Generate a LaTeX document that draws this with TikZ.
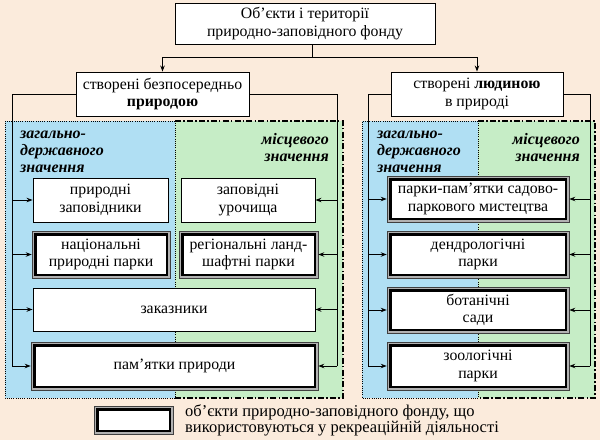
\documentclass[tikz,border=0pt]{standalone}
\usepackage{fontspec}
\setmainfont{Liberation Serif}
\usetikzlibrary{arrows.meta}
\definecolor{bgc}{HTML}{FBEBDC}
\definecolor{bluez}{HTML}{B0DFF3}
\definecolor{greenz}{HTML}{C6EDC6}
\begin{document}
\begin{tikzpicture}[x=1pt,y=-1pt,
  txt/.style={font=\fontsize{15.8}{17.5}\selectfont},
  box/.style={txt, draw=black, line width=0.9pt, fill=white, align=center, inner sep=0pt},
  rbox/.style={box, draw=black!75, line width=0.6pt, fill=black!30,
    path picture={\draw[black, line width=2.6pt, fill=white]
      ([shift={(3.2pt,-3.2pt)}]path picture bounding box.north west) rectangle
      ([shift={(-3.2pt,3.2pt)}]path picture bounding box.south east);}},
  lab/.style={font=\fontsize{16}{17}\selectfont\bfseries\itshape, inner sep=0pt},
  legt/.style={font=\fontsize{16.5}{17}\selectfont, inner sep=0pt},
  conn/.style={draw=black, line width=0.9pt},
  arr/.style={conn, -{Stealth[length=6pt,width=4.5pt]}},
  dotb/.style={draw=black, line width=0.9pt, dash pattern=on 0.9pt off 1.3pt},
  dashdotb/.style={draw=black, line width=1.2pt, dash pattern=on 6pt off 2.2pt on 1.5pt off 2.2pt},
]
\useasboundingbox (0,0) rectangle (600,440);
\fill[bgc] (0,0) rectangle (600,440);

% zones
\fill[bluez] (5,121) rectangle (175,398);
\fill[greenz] (175,121) rectangle (343,398);
\fill[bluez] (362,121) rectangle (478,398);
\fill[greenz] (478,121) rectangle (595,398);
\draw[dashdotb] (175,121) -- (343,121) -- (343,398) -- (175,398);
\draw[dashdotb] (478,121) -- (595,121) -- (595,398) -- (478,398);
\draw[dotb] (175,121) -- (5,121) -- (5,398) -- (175,398);
\draw[dotb] (175,121) -- (175,398);
\draw[dotb] (478,121) -- (362,121) -- (362,398) -- (478,398);
\draw[dotb] (478,121) -- (478,398);

% labels
\node[lab, anchor=base west] at (20,138) {загально-};
\node[lab, anchor=base west] at (20,155) {державного};
\node[lab, anchor=base west] at (20,172) {значення};
\node[lab, anchor=base east] at (329,144) {місцевого};
\node[lab, anchor=base east] at (329,161.5) {значення};
\node[lab, anchor=base west] at (377,138) {загально-};
\node[lab, anchor=base west] at (377,155) {державного};
\node[lab, anchor=base west] at (377,172) {значення};
\node[lab, anchor=base east] at (580,144) {місцевого};
\node[lab, anchor=base east] at (580,161.5) {значення};

% top boxes
\node[box, minimum width=260pt, minimum height=41pt] (T) at (305,23.5) {Об’єкти і території\\природно-заповідного фонду};
\node[box, minimum width=173pt, minimum height=44pt] (L) at (162.5,94) {створені безпосередньо\\\textbf{природою}};
\node[box, minimum width=172pt, minimum height=44pt] (R) at (477,94) {створені \textbf{людиною}\\в природі};

% left zone boxes
\node[box, minimum width=135pt, minimum height=44pt] (PZ) at (100.5,200) {природні\\заповідники};
\node[box, minimum width=134pt, minimum height=44pt] (ZU) at (248,200) {заповідні\\урочища};
\node[rbox, minimum width=138pt, minimum height=47pt] (NPP) at (101,254.5) {національні\\природні парки};
\node[rbox, minimum width=139pt, minimum height=47pt] (RLP) at (248.5,254.5) {регіональні ланд-\\шафтні парки};
\node[box, minimum width=282pt, minimum height=43pt] (ZK) at (174,309.5) {заказники};
\node[rbox, minimum width=287pt, minimum height=48pt] (PP) at (174.5,366) {пам’ятки природи};

% right zone boxes
\node[rbox, minimum width=182pt, minimum height=46pt] (S1) at (478,199) {парки-пам’ятки садово-\\паркового мистецтва};
\node[rbox, minimum width=182pt, minimum height=47pt] (S2) at (478,254.5) {дендрологічні\\парки};
\node[rbox, minimum width=182pt, minimum height=46pt] (S3) at (478,310) {ботанічні\\сади};
\node[rbox, minimum width=182pt, minimum height=48pt] (S4) at (478,366) {зоологічні\\парки};

% legend
\node[rbox, minimum width=79pt, minimum height=28pt] (LG) at (133.5,420) {};
\node[legt, anchor=base west] (LT1) at (185,416.5) {об’єкти природно-заповідного фонду, що};
\node[legt, anchor=base west] (LT2) at (185,432.5) {використовуються у рекреаційній діяльності};

% connectors top
\coordinate (tj) at (312,57);
\draw[conn] (T.south -| tj) -- (tj);
\draw[arr] (tj) -| (L.north);
\draw[arr] (tj) -| (R.north);

% left zone buses
\coordinate (bl) at (12,94);
\coordinate (br) at (337,94);
\draw[conn] (L.west) -- (bl) -- (bl |- PP.west);
\draw[conn] (L.east) -- (br) -- (br |- PP.east);
\draw[arr] (bl |- PZ.west) -- (PZ.west);
\draw[arr] (bl |- NPP.west) -- (NPP.west);
\draw[arr] (bl |- ZK.west) -- (ZK.west);
\draw[arr] (bl |- PP.west) -- (PP.west);
\draw[arr] (br |- ZU.east) -- (ZU.east);
\draw[arr] (br |- RLP.east) -- (RLP.east);
\draw[arr] (br |- ZK.east) -- (ZK.east);
\draw[arr] (br |- PP.east) -- (PP.east);

% right zone buses
\coordinate (cl) at (368,94);
\coordinate (cr) at (590,94);
\draw[conn] (R.west) -- (cl) -- (cl |- S4.west);
\draw[conn] (R.east) -- (cr) -- (cr |- S4.east);
\draw[arr] (cl |- S1.west) -- (S1.west);
\draw[arr] (cl |- S2.west) -- (S2.west);
\draw[arr] (cl |- S3.west) -- (S3.west);
\draw[arr] (cl |- S4.west) -- (S4.west);
\draw[arr] (cr |- S1.east) -- (S1.east);
\draw[arr] (cr |- S2.east) -- (S2.east);
\draw[arr] (cr |- S3.east) -- (S3.east);
\draw[arr] (cr |- S4.east) -- (S4.east);
\end{tikzpicture}
\end{document}
